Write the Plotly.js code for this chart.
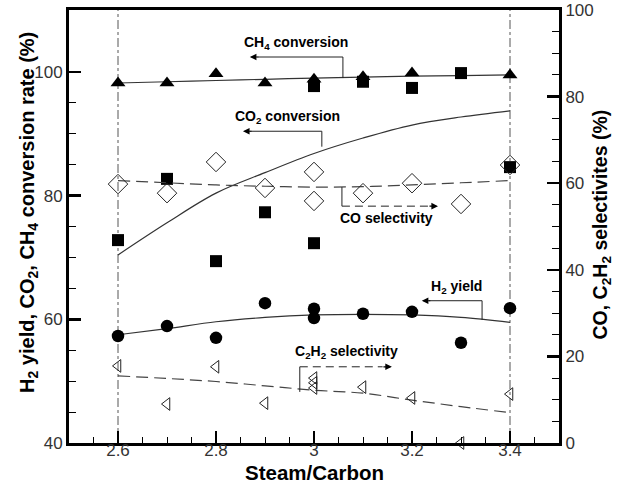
<!DOCTYPE html>
<html>
<head>
<meta charset="utf-8">
<script src="https://cdn.plot.ly/plotly-3.0.1.min.js"></script>
<style>html,body{margin:0;padding:0;background:#fff;}#chart{width:628px;height:483px;}</style>
</head>
<body>
<div id="chart"></div>
<script>
// ---- data ----
const xTickVals = [2.6, 2.8, 3.0, 3.2, 3.4];
const xTickText = ["2.6", "2.8", "3", "3.2", "3.4"];
const yLeftTicks = [40, 60, 80, 100];
const yRightTicks = [0, 20, 40, 60, 80, 100];

const ch4X = [2.6, 2.7, 2.8, 2.9, 3.0, 3.1, 3.2, 3.4];
const ch4Conv = [98.2, 98.2, 99.7, 98.2, 98.8, 99.2, 99.8, 99.5];

const co2X = [2.6, 2.7, 2.8, 2.9, 3.0, 3.0, 3.1, 3.2, 3.3, 3.4];
const co2Conv = [72.8, 82.7, 69.4, 77.3, 72.3, 97.7, 98.4, 97.4, 99.8, 84.6];

const coSelX = [2.6, 2.7, 2.8, 2.9, 3.0, 3.0, 3.1, 3.2, 3.3, 3.4];
const coSel = [59.8, 57.7, 64.9, 58.9, 62.6, 55.9, 57.7, 60.0, 55.2, 64.2];

const h2X = [2.6, 2.7, 2.8, 2.9, 3.0, 3.0, 3.1, 3.2, 3.3, 3.4];
const h2Yield = [57.3, 58.9, 57.0, 62.6, 61.7, 60.2, 60.9, 61.2, 56.2, 61.8];

const c2h2X = [2.6, 2.7, 2.8, 2.9, 3.0, 3.0, 3.0, 3.1, 3.2, 3.3, 3.4];
const c2h2Sel = [17.8, 9.0, 17.6, 9.2, 15.0, 13.9, 12.7, 12.9, 10.4, 0, 11.3];

const fitX = [2.6, 2.7, 2.8, 2.9, 3.0, 3.1, 3.2, 3.3, 3.4];
const ch4Fit = [98.2, 98.4, 98.6, 98.8, 99.0, 99.15, 99.3, 99.4, 99.5];
const co2Fit = [70.4, 75.6, 80.4, 83.7, 86.8, 89.3, 91.4, 92.7, 93.7];
const coSelFit = [60.6, 60.1, 59.6, 59.3, 59.1, 59.2, 59.6, 60.1, 60.6];
const h2Fit = [57.5, 58.5, 59.6, 60.3, 60.7, 60.8, 60.7, 60.3, 59.5];
const c2h2Fit = [15.5, 14.9, 14.2, 13.2, 12.2, 11.5, 9.9, 8.4, 7.0];

const xTitle = 'Steam/Carbon';
const yLeftTitle = 'H<sub>2</sub> yield, CO<sub>2</sub>, CH<sub>4</sub> conversion rate (%)';
const yRightTitle = 'CO, C<sub>2</sub>H<sub>2</sub> selectivites (%)';

// ---- chart ----
const FONT = '"Liberation Sans", Arial, sans-serif';
const fitLine = {color: '#333', width: 1.2, shape: 'spline'};
const dashLine = {color: '#444', width: 1.2, shape: 'spline', dash: '12px,6px'};

const traces = [
  {x: fitX, y: ch4Fit, mode: 'lines', line: fitLine, yaxis: 'y'},
  {x: fitX, y: co2Fit, mode: 'lines', line: fitLine, yaxis: 'y'},
  {x: fitX, y: h2Fit, mode: 'lines', line: fitLine, yaxis: 'y'},
  {x: fitX, y: coSelFit, mode: 'lines', line: dashLine, yaxis: 'y2'},
  {x: fitX, y: c2h2Fit, mode: 'lines', line: dashLine, yaxis: 'y2'},
  {x: coSelX, y: coSel, mode: 'markers', yaxis: 'y2',
   marker: {symbol: 'diamond-open', size: 15, color: '#222', line: {width: 1}}},
  {x: c2h2X, y: c2h2Sel, mode: 'markers', yaxis: 'y2', cliponaxis: false,
   marker: {symbol: 'triangle-left-open', size: 11, color: '#222', line: {width: 1}}},
  {x: ch4X, y: ch4Conv, mode: 'markers', yaxis: 'y',
   marker: {symbol: 'triangle-up', size: 13, color: '#000'}},
  {x: co2X, y: co2Conv, mode: 'markers', yaxis: 'y',
   marker: {symbol: 'square', size: 12, color: '#000'}},
  {x: h2X, y: h2Yield, mode: 'markers', yaxis: 'y',
   marker: {symbol: 'circle', size: 12.5, color: '#000'}},
  // carrier for the tick-label axis (invisible)
  {x: fitX, y: h2Fit, mode: 'lines', xaxis: 'x2', yaxis: 'y', line: {width: 0}, opacity: 0, hoverinfo: 'skip'}
];

function vline(x0, y0, y1, yref, dash) {
  return {type: 'line', xref: 'x', yref: yref, x0: x0, x1: x0, y0: y0, y1: y1,
          line: {color: '#222', width: 1, dash: dash || 'solid'}};
}
function hline(x0, x1, y, yref, dash) {
  return {type: 'line', xref: 'x', yref: yref, x0: x0, x1: x1, y0: y, y1: y,
          line: {color: '#222', width: 1, dash: dash || 'solid'}};
}

const shapes = [
  {type: 'line', xref: 'x', yref: 'paper', x0: 2.6, x1: 2.6, y0: 0, y1: 1, layer: 'below',
   line: {color: '#555', width: 1, dash: 'dashdot'}},
  {type: 'line', xref: 'x', yref: 'paper', x0: 3.4, x1: 3.4, y0: 0, y1: 1, layer: 'below',
   line: {color: '#555', width: 1, dash: 'dashdot'}},
  vline(3.059, 99.0, 102.4, 'y'), hline(2.885, 3.059, 102.4, 'y'),
  vline(3.016, 87.9, 90.4, 'y'), hline(2.870, 3.016, 90.4, 'y'),
  vline(3.343, 59.9, 63.0, 'y'), hline(3.235, 3.343, 63.0, 'y'),
  vline(3.057, 59.1, 54.7, 'y2'), hline(3.057, 3.235, 54.7, 'y2', '8px,5px'),
  vline(2.971, 11.8, 17.6, 'y2'), hline(2.971, 3.140, 17.6, 'y2', '8px,5px')
];

function head(x, y, yref, dir) {
  return {x: x, y: y, xref: 'x', yref: yref, text: '', showarrow: true,
          arrowhead: 2, arrowsize: 1.1, arrowwidth: 1.2, arrowcolor: '#000',
          ax: dir * 10, ay: 0};
}
function label(x, y, yref, txt) {
  return {x: x, y: y, xref: 'x', yref: yref, text: '<b>' + txt + '</b>', showarrow: false,
          font: {family: FONT, size: 14, color: '#000'}};
}
function axTitle(x, y, txt, size, angle) {
  return {x: x, y: y, xref: 'paper', yref: 'paper', text: '<b>' + txt + '</b>', showarrow: false,
          textangle: angle, xanchor: 'center', yanchor: 'middle',
          font: {family: FONT, size: size, color: '#000'}};
}

const annotations = [
  label(2.963, 104.7, 'y', 'CH<sub>4</sub> conversion'), head(2.869, 102.4, 'y', 1),
  label(2.945, 92.7, 'y', 'CO<sub>2</sub> conversion'), head(2.855, 90.4, 'y', 1),
  label(3.290, 65.3, 'y', 'H<sub>2</sub> yield'), head(3.220, 63.0, 'y', 1),
  label(3.147, 52.0, 'y2', 'CO selectivity'), head(3.253, 54.7, 'y2', -1),
  label(3.067, 21.0, 'y2', 'C<sub>2</sub>H<sub>2</sub> selectivity'), head(3.159, 17.6, 'y2', -1),
  axTitle(0.5, -0.068, xTitle, 20.5, 0),
  axTitle(-0.083, 0.532, yLeftTitle, 20, -90),
  axTitle(1.086, 0.505, yRightTitle, 19.5, -90)
];

const tickFont = {family: FONT, size: 17, color: '#333'};

const layout = {
  width: 628, height: 483,
  margin: {l: 69, r: 69, t: 10, b: 40},
  paper_bgcolor: '#fff', plot_bgcolor: '#fff',
  showlegend: false,
  font: {family: FONT},
  xaxis: {
    range: [2.5, 3.5], tickmode: 'array', tickvals: xTickVals, showticklabels: false,
    ticks: 'inside', ticklen: 12, tickwidth: 2.5, tickcolor: '#000',
    minor: {dtick: 0.05, tick0: 2.5, ticks: 'inside', ticklen: 6, tickwidth: 1, tickcolor: '#000', showgrid: false},
    showline: true, linewidth: 3, linecolor: '#000', mirror: true,
    showgrid: false, zeroline: false
  },
  xaxis2: {
    range: [2.5, 3.5], overlaying: 'x', anchor: 'free', position: 0.012, side: 'bottom',
    tickmode: 'array', tickvals: xTickVals, ticktext: xTickText,
    ticks: '', showline: false, showgrid: false, zeroline: false, tickfont: tickFont
  },
  yaxis: {
    range: [40, 110], tickmode: 'array', tickvals: yLeftTicks,
    ticks: 'inside', ticklen: 12, tickwidth: 2.5, tickcolor: '#000',
    minor: {tickmode: 'array', tickvals: [45, 50, 55, 65, 70, 75, 85, 90, 95],
            ticks: 'inside', ticklen: 7, tickwidth: 1, tickcolor: '#000', showgrid: false},
    showline: true, linewidth: 3, linecolor: '#000', mirror: true,
    showgrid: false, zeroline: false, tickfont: tickFont
  },
  yaxis2: {
    range: [0, 100], overlaying: 'y', side: 'right', tickmode: 'array', tickvals: yRightTicks,
    ticks: 'inside', ticklen: 12, tickwidth: 2.5, tickcolor: '#000',
    minor: {dtick: 5, ticks: 'inside', ticklen: 7, tickwidth: 1, tickcolor: '#000', showgrid: false},
    showline: true, linewidth: 3, linecolor: '#000',
    showgrid: false, zeroline: false, tickfont: tickFont
  },
  shapes: shapes,
  annotations: annotations
};

Plotly.newPlot('chart', traces, layout, {staticPlot: true, displayModeBar: false});
</script>
</body>
</html>
